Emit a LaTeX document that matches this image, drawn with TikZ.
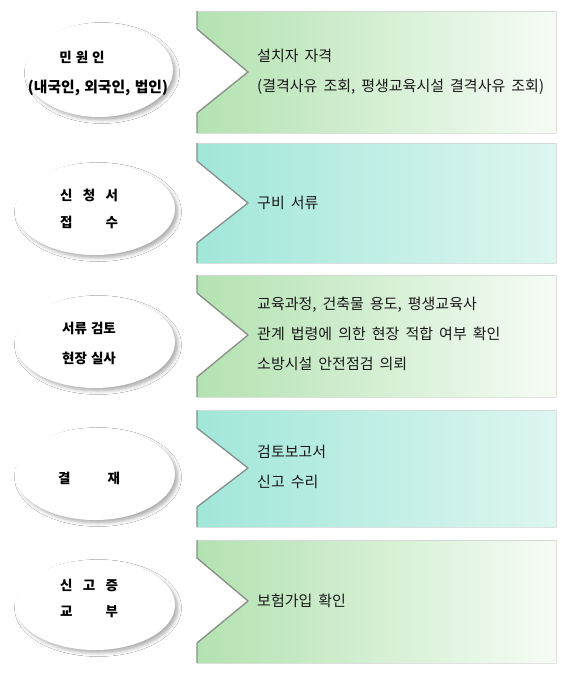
\documentclass[tikz,border=0pt]{standalone}
\usepackage{fontspec}
\setmainfont{Noto Sans CJK KR}[WordSpace=1.8]
\newfontfamily\krhead{Noto Sans CJK KR}[WordSpace=1.3]
\usetikzlibrary{shadows.blur,shapes.geometric}
\definecolor{grL}{HTML}{B3E2B1}
\definecolor{grR}{HTML}{F6FCF5}
\definecolor{tlL}{HTML}{A2E7D9}
\definecolor{tlR}{HTML}{DDF6F1}
\definecolor{edgeC}{HTML}{8C8C8C}
\definecolor{topC}{HTML}{D2DCD4}
\pgfdeclareradialshading{ellshade}{\pgfpoint{-8bp}{10bp}}{%
  color(0bp)=(white); color(34bp)=(white); color(46bp)=(black!4);
  color(54bp)=(black!11); color(62bp)=(black!22); color(70bp)=(black!28)}
\tikzset{
  ell/.style={ellipse, shading=ellshade, inner sep=0pt,
    blur shadow={shadow xshift=3pt, shadow yshift=-3pt, shadow opacity=32, shadow blur radius=3.5pt}},
  etext/.style={font=\krhead\bfseries\fontsize{13.5}{16}\selectfont, inner sep=0pt},
  ptext/.style={font=\fontsize{15}{30}\selectfont, align=left, anchor=west, inner sep=0pt, text=black!90},
  edgeline/.style={draw=edgeC, line width=1.3pt, line join=round},
  topline/.style={draw=topC, line width=0.8pt}
}
% panel: #1 name, #2 top, #3 bottom, #4 tip y, #5 left colour, #6 right colour
\newcommand\mypanel[6]{%
  \coordinate (#1tl) at (197,#2);
  \coordinate (#1tr) at (556,#2);
  \coordinate (#1br) at (556,#3);
  \coordinate (#1bl) at (197,#3);
  \coordinate (#1nt) at (197,#2+18);
  \coordinate (#1tip) at (248,#4);
  \coordinate (#1nb) at (197,#3-20);
  \fill[left color=#5, right color=#6] (#1tl) -- (#1tr) -- (#1br) -- (#1bl) -- (#1nb) -- (#1tip) -- (#1nt) -- cycle;
  \draw[topline] (#1tl) -- (#1tr);
  \draw[edgeline] (#1tl) -- (#1nt) -- (#1tip) -- (#1nb) -- (#1bl);
}
\begin{document}
\begin{tikzpicture}[x=1pt,y=-1pt]
\useasboundingbox[fill=white] (0,0) rectangle (566,675);

\mypanel{pa}{11}{133}{72}{grL}{grR}
\mypanel{pb}{143}{263}{203}{tlL}{tlR}
\mypanel{pc}{275}{397}{335}{grL}{grR}
\mypanel{pd}{410}{527}{468}{tlL}{tlR}
\mypanel{pe}{540}{663}{601}{grL}{grR}

\node[ptext] (ta) at (257,72) {설치자 자격\\(결격사유 조회, 평생교육시설 결격사유 조회)};
\node[ptext] (tb) at (257,203) {구비 서류};
\node[ptext] (tc) at (257,334) {교육과정, 건축물 용도, 평생교육사\\관계 법령에 의한 현장 적합 여부 확인\\소방시설 안전점검 의뢰};
\node[ptext] (td) at (257,467) {검토보고서\\신고 수리};
\node[ptext] (te) at (257,601) {보험가입 확인};

\node[ell, minimum width=148pt, minimum height=94pt] (ea) at (99,70) {};
\node[ell, minimum width=160pt, minimum height=92pt] (eb) at (95,209) {};
\node[ell, minimum width=160pt, minimum height=92pt] (ec) at (95,342) {};
\node[ell, minimum width=160pt, minimum height=92pt] (ed) at (95,474) {};
\node[ell, minimum width=160pt, minimum height=90pt] (ee) at (95,605) {};

\node[etext] (ea1) at (82,57) {민 원 인};
\node[etext] (ea2) at (98,88) {\resizebox{140pt}{!}{(내국인, 외국인, 법인)}};
\node[etext] (eb1) at (89,195) {\makebox[58pt][s]{신\hfill 청\hfill 서}};
\node[etext] (eb2) at (89,222) {\makebox[58pt][s]{접\hfill 수}};
\node[etext] (ec1) at (89,328) {서류 검토};
\node[etext] (ec2) at (89,358) {현장 실사};
\node[etext] (ed1) at (89,478) {\makebox[62pt][s]{결\hfill 재}};
\node[etext] (ee1) at (89,585) {\makebox[58pt][s]{신\hfill 고\hfill 증}};
\node[etext] (ee2) at (89,612) {\makebox[58pt][s]{교\hfill 부}};
\end{tikzpicture}
\end{document}
